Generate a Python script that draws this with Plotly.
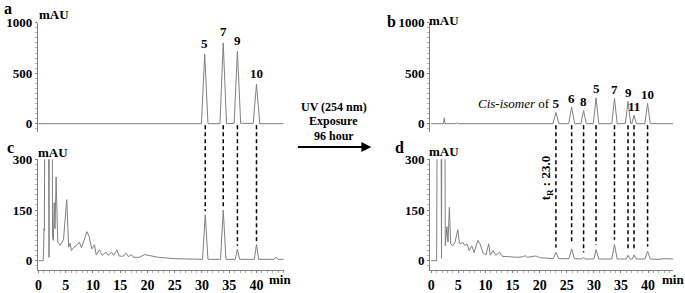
import plotly.graph_objects as go

W, H = 685, 293

# ---------------- data (retention time in min, absorbance in mAU) ----------------
# Panel a: before UV exposure
a_t = [0, 1.8, 1.9, 2.0, 29.9, 30.5, 31.1, 33.3, 33.9, 34.5, 35.9, 36.5, 37.1, 39.4, 40.0, 40.6, 45.0]
a_y = [0, 0, 4, 0, 0, 690, 0, 0, 800, 0, 3, 717, 3, 3, 390, 0, 0]
a_peak_t = [30.5, 33.9, 36.5, 40.0]
a_peak_y = [690, 800, 717, 390]
a_peak_lab = ["5", "7", "9", "10"]

# Panel c: zoom of panel a (0-300 mAU)
c_t = [0, 0.9, 1.05, 1.1, 1.45, 1.95, 2.25, 2.6, 2.75, 2.9, 3.05, 3.25, 3.55, 4.0, 4.6, 5.2,
       5.55, 5.8, 6.05, 6.5, 7.0, 7.5, 7.9, 8.4, 8.9, 9.3, 9.8, 10.3, 10.6, 11.2, 11.7, 12.4,
       12.8, 13.4, 13.8, 14.4, 14.8, 15.5, 16.1, 16.5, 17.1, 17.4, 18.5, 19.5, 20.5, 22.0,
       25.0, 28.0, 30.1, 30.6, 31.1, 33.4, 33.9, 34.4, 36.1, 36.5, 36.9, 39.6, 40.0, 40.4,
       43.2, 43.6, 44.0, 45.0]
c_y = [0, 0, 95, 88, 2000, 10, 2000, 70, 60, 172, 95, 248, 55, 45, 62, 181,
       40, 52, 30, 40, 45, 55, 38, 62, 86, 72, 35, 47, 17, 32, 16, 25,
       16, 25, 16, 32, 14, 13, 22, 12, 18, 10, 10, 18, 14, 10,
       6, 4, 4, 136, 4, 4, 150, 4, 4, 34, 4, 4, 48, 4,
       4, 10, 4, 4]
c_peak_t = [30.6, 33.9, 36.5, 40.0]
c_peak_y = [136, 150, 34, 48]

# Panel b: after UV (254 nm) exposure, 96 hour
b_t = [0, 2.25, 2.4, 2.55, 4.4, 4.7, 5.0, 22.45, 23.0, 23.55, 25.35, 25.9, 26.45, 27.6, 28.1,
       28.6, 29.9, 30.4, 30.9, 33.3, 33.8, 34.3, 35.8, 36.3, 36.8, 37.0, 37.4, 37.85, 39.4,
       39.9, 40.4, 44.6]
b_y = [0, 0, 57, 0, 0, 8, 0, 0, 111, 0, 0, 162, 0, 0, 130,
       0, 0, 257, 0, 0, 250, 0, 0, 219, 0, 0, 83, 0, 0,
       200, 0, 0]
b_peak_t = [23.0, 25.9, 28.1, 30.4, 33.8, 36.3, 37.4, 39.9]
b_peak_y = [111, 162, 130, 257, 250, 219, 83, 200]
b_peak_lab = ["5", "6", "8", "5", "7", "9", "11", "10"]

# Panel d: zoom of panel b (0-300 mAU)
d_t = [0, 1.0, 1.45, 1.9, 2.25, 2.6, 2.9, 3.1, 3.35, 3.6, 4.0, 4.4, 4.9, 5.2, 5.5, 5.8, 6.2,
       6.6, 7.0, 7.5, 7.9, 8.6, 9.0, 9.6, 10.1, 10.6, 10.9, 11.4, 11.9, 12.6, 13.1, 14.0,
       15.0, 16.0, 17.0, 17.3, 17.7, 18.8, 19.3, 20.0, 22.5, 23.0, 23.5, 25.4, 25.9, 26.4,
       27.8, 28.1, 28.4, 30.0, 30.4, 30.9, 33.3, 33.8, 34.3, 36.0, 36.3, 36.7, 37.1, 37.4,
       37.8, 39.4, 39.9, 40.4, 42.0, 43.0, 44.6]
d_y = [0, 0, 2000, 7, 2000, 45, 101, 55, 158, 50, 44, 55, 92, 52, 50, 55, 45,
       50, 30, 44, 24, 60, 50, 22, 17, 50, 16, 30, 16, 25, 13, 12,
       10, 10, 12, 15, 10, 12, 14, 9, 6, 25, 6, 6, 35, 6,
       5, 10, 5, 5, 33, 5, 5, 48, 5, 5, 16, 5, 5, 17,
       5, 5, 28, 5, 4, 6, 5]
d_peak_t = [23.0, 25.9, 28.1, 30.4, 33.8, 36.3, 37.4, 39.9]
d_peak_y = [25, 35, 10, 33, 48, 16, 17, 28]

y_ticks_top = [0, 500, 1000]
y_ticks_bottom = [0, 150, 300]
x_ticks = [0, 5, 10, 15, 20, 25, 30, 35, 40]

# ---------------- layout geometry (pixels) ----------------
LEFT_X = (35, 282)
RIGHT_X = (429, 673)
TOP_Y = (131, 16.5)      # bottom, top pixel rows
BOT_Y = (276, 160)
RNG_A = [-0.1, 45.0]
RNG_B = [-0.2, 44.6]
RNG_TOP = [-80, 1000]
RNG_BOT = [-27, 300]


def px_x(p):
    return p / W


def px_y(p):
    return 1 - p / H


def to_paper_y(val, dom_px, rng):
    lo, hi = px_y(dom_px[0]), px_y(dom_px[1])
    return lo + (val - rng[0]) / (rng[1] - rng[0]) * (hi - lo)


SERIF = "Liberation Serif"
GRAY = "#808080"
ytickfont = dict(family=SERIF, size=13, color="black", weight="bold")
xtickfont = dict(family=SERIF, size=14, color="black", weight="bold")

fig = go.Figure()
for t, y, xa, ya in [(a_t, a_y, "x", "y"), (b_t, b_y, "x2", "y2"),
                     (c_t, c_y, "x3", "y3"), (d_t, d_y, "x4", "y4")]:
    fig.add_trace(go.Scatter(x=t, y=y, mode="lines", xaxis=xa, yaxis=ya,
                             line=dict(color=GRAY, width=1), hoverinfo="skip",
                             showlegend=False))


def yax(dom, rng, ticks, anchor, minor_dt):
    return dict(domain=[px_y(dom[0]), px_y(dom[1])], range=rng, anchor=anchor,
                showline=True, linecolor=GRAY, linewidth=1, showgrid=False,
                zeroline=False, tickvals=ticks, ticks="outside", ticklen=2,
                tickcolor=GRAY, tickfont=ytickfont,
                minor=dict(ticks="outside", ticklen=2, tickcolor="#b0b0b0", dtick=minor_dt),
                fixedrange=True)


def xax(dom, rng, anchor, visible):
    d = dict(domain=[px_x(dom[0]), px_x(dom[1])], range=rng, anchor=anchor,
             showgrid=False, zeroline=False, fixedrange=True)
    if not visible:
        d.update(visible=False)
    else:
        d.update(showline=True, linecolor=GRAY, linewidth=1, tickvals=x_ticks,
                 ticks="outside", ticklen=2, tickcolor=GRAY, tickfont=xtickfont,
                 minor=dict(ticks="outside", ticklen=2, tickcolor="#b0b0b0", dtick=1))
    return d


fig.update_layout(
    width=W, height=H, margin=dict(l=0, r=0, t=0, b=0),
    paper_bgcolor="white", plot_bgcolor="white",
    xaxis=xax(LEFT_X, RNG_A, "y", False),
    yaxis=yax(TOP_Y, RNG_TOP, y_ticks_top, "x", 50),
    xaxis2=xax(RIGHT_X, RNG_B, "y2", False),
    yaxis2=yax(TOP_Y, RNG_TOP, y_ticks_top, "x2", 50),
    xaxis3=xax(LEFT_X, RNG_A, "y3", True),
    yaxis3=yax(BOT_Y, RNG_BOT, y_ticks_bottom, "x3", 15),
    xaxis4=xax(RIGHT_X, RNG_B, "y4", True),
    yaxis4=yax(BOT_Y, RNG_BOT, y_ticks_bottom, "x4", 15),
)

ann = []


def text(x, y, s, size=13, bold=True, **kw):
    f = dict(family=SERIF, size=size, color="black")
    if bold:
        f["weight"] = "bold"
    ann.append(dict(x=px_x(x), y=px_y(y), xref="paper", yref="paper", text=s,
                    xanchor="center", yanchor="middle",
                    showarrow=False, font=f, **kw))


# panel letters and units
text(5, 2, "a", size=16)
text(390, 15, "b", size=16)
text(8, 148, "c", size=16)
text(398, 148, "d", size=16)
text(51, 8, "mAU")
text(443, 14, "mAU")
text(50, 153, "mAU")
text(443, 152, "mAU")
text(278, 286, "min")
text(673, 286, "min")

# peak labels
for t, v, s in zip(a_peak_t, a_peak_y, a_peak_lab):
    ann.append(dict(x=t, y=v, xref="x", yref="y", text=s, showarrow=False,
                    xanchor="center", yanchor="middle",
                    yshift=11, font=dict(family=SERIF, size=13, color="black", weight="bold")))
for i, (t, v, s) in enumerate(zip(b_peak_t, b_peak_y, b_peak_lab)):
    if i == 0:
        ann.append(dict(x=t, y=v, xref="x2", yref="y2",
                        text="<i>Cis-isomer</i> of <b>5</b>", showarrow=False,
                        xanchor="right", yanchor="middle", xshift=5, yshift=9,
                        font=dict(family=SERIF, size=13, color="black")))
    else:
        ann.append(dict(x=t, y=v, xref="x2", yref="y2", text=s, showarrow=False,
                        xanchor="center", yanchor="middle",
                        yshift=9, font=dict(family=SERIF, size=13, color="black", weight="bold")))

# arrow + conditions
text(332, 105, "UV (254 nm)", size=12)
text(332, 120, "Exposure", size=12)
text(332, 135, "96 hour", size=12)
ann.append(dict(x=px_x(370), y=px_y(147), xref="paper", yref="paper", ax=-75, ay=0,
                text="", showarrow=True, arrowhead=2, arrowsize=1, arrowwidth=2,
                arrowcolor="black"))

# retention time of cis-isomer
ann.append(dict(x=b_peak_t[0], y=px_y(179), xref="x4", yref="paper",
                text="t<sub>R</sub> : 23.0", textangle=-90, showarrow=False, xshift=-9,
                xanchor="center", yanchor="middle",
                font=dict(family=SERIF, size=13, color="black", weight="bold")))

fig.update_layout(annotations=ann)

# dashed guide lines between panels
dash = dict(color="black", width=1.5, dash="4px,3px")
start_a = to_paper_y(-15, TOP_Y, RNG_TOP)
for t, v in zip(c_peak_t, c_peak_y):
    fig.add_shape(type="line", xref="x3", yref="paper", x0=t, x1=t, y0=start_a,
                  y1=to_paper_y(v + 10, BOT_Y, RNG_BOT), line=dash)
for t, v in zip(d_peak_t, d_peak_y):
    fig.add_shape(type="line", xref="x4", yref="paper", x0=t, x1=t, y0=start_a,
                  y1=to_paper_y(v + 14, BOT_Y, RNG_BOT), line=dash)

fig.write_html("out.html", config={"displayModeBar": False, "staticPlot": True},
               post_script="document.body.style.margin='0';document.body.style.overflow='hidden';")
